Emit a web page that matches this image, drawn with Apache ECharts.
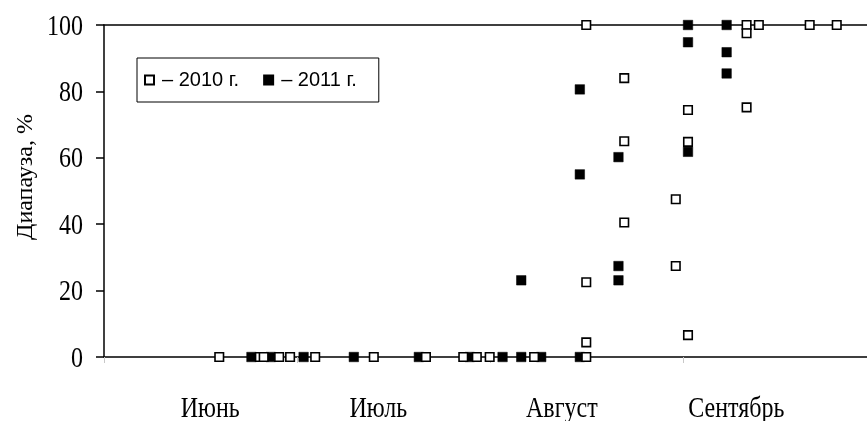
<!DOCTYPE html>
<html>
<head>
<meta charset="utf-8">
<script src="https://cdn.jsdelivr.net/npm/echarts@6/dist/echarts.min.js"></script>
<style>
  html, body { margin: 0; padding: 0; background: #fff; }
  #chart { width: 867px; height: 421px; }
</style>
</head>
<body>
<div id="chart"></div>
<script>
// Days counted from 1 June; 0/30/60/90 are the month boundaries
var days2010 = [17.9, 24.2, 24.8, 27.2, 28.9, 32.8, 41.9, 50.0, 55.8, 57.9, 59.9, 66.8, 74.9,
                74.9, 74.9, 74.9, 80.8, 80.8, 80.8, 88.8, 88.8, 90.7, 90.7, 90.7,
                99.8, 99.8, 99.8, 101.7, 109.6, 113.8];
var diapause2010 = [0, 0, 0, 0, 0, 0, 0, 0, 0, 0, 0, 0, 0,
                    100, 22.5, 4.4, 84, 65, 40.5, 47.5, 27.4, 74.4, 64.8, 6.6,
                    100, 97.5, 75.2, 100, 100, 100];

var days2011 = [22.9, 25.9, 31.0, 38.8, 48.9, 56.8, 61.9, 64.8, 67.9, 73.9,
                64.8, 73.9, 73.9, 79.9, 79.9, 79.9, 90.7, 90.7, 90.7, 96.7, 96.7, 96.7];
var diapause2011 = [0, 0, 0, 0, 0, 0, 0, 0, 0, 0,
                    23.1, 80.6, 55.0, 60.2, 27.4, 23.1, 100, 94.8, 61.8, 100, 91.8, 85.4];

var seriesNames = ['2010 г.', '2011 г.'];
var monthNames = ['Июнь', 'Июль', 'Август', 'Сентябрь'];
var monthLabelDays = [16.5, 42.6, 71.1, 98.2];
var monthTickDays = [0, 30, 60, 90];
var yTicks = [0, 20, 40, 60, 80, 100];

function pairs(xs, ys) {
  return xs.map(function (x, i) { return [x, ys[i]]; });
}

var serif = 'Liberation Serif';
var sans = 'Liberation Sans';
var xMin = 0, xMax = 118.5;
// the serif captions are set tall and narrow
var tallScale = 1.22;

var chart = echarts.init(document.getElementById('chart'), null, { renderer: 'canvas' });

chart.setOption({
  animation: false,
  backgroundColor: '#ffffff',
  grid: { left: 104, right: 0, top: 25, bottom: 64, outerBoundsMode: 'none' },
  legend: {
    data: [seriesNames[0], seriesNames[1]],
    left: 137,
    top: 58,
    orient: 'horizontal',
    borderColor: '#000',
    borderWidth: 1,
    padding: [12, 22, 12, 7],
    itemGap: 24,
    itemWidth: 9,
    itemHeight: 9,
    formatter: function (name) { return '– ' + name; },
    textStyle: { fontFamily: sans, fontSize: 20, color: '#000', padding: [0, 0, 0, 3] }
  },
  xAxis: [
    {
      type: 'value',
      min: xMin,
      max: xMax,
      position: 'bottom',
      axisLine: { show: true, onZero: false, lineStyle: { color: '#000', width: 1.5 } },
      axisTick: { show: true, customValues: monthTickDays, length: 6, lineStyle: { color: '#c8c8c8', width: 1 } },
      axisLabel: { show: false },
      splitLine: { show: false }
    },
    {
      type: 'value',
      min: xMin,
      max: xMax,
      position: 'top',
      axisLine: { show: true, onZero: false, lineStyle: { color: '#000', width: 1.5 } },
      axisTick: { show: false },
      axisLabel: { show: false },
      splitLine: { show: false }
    }
  ],
  yAxis: {
    type: 'value',
    min: yTicks[0],
    max: yTicks[yTicks.length - 1],
    interval: 20,
    axisLine: { show: true, onZero: false, lineStyle: { color: '#000', width: 1.5 } },
    axisTick: { show: true, length: 8, lineStyle: { color: '#000', width: 1.5 } },
    axisLabel: { show: false },
    splitLine: { show: false },
    name: 'Диапауза, %',
    nameLocation: 'middle',
    nameGap: 66,
    nameTextStyle: { fontFamily: serif, fontSize: 24, color: '#000', padding: [0, 0, 0, 28] }
  },
  series: [
    {
      name: seriesNames[1],
      type: 'scatter',
      xAxisIndex: 0,
      symbol: 'rect',
      symbolSize: 9.5,
      itemStyle: { color: '#000', borderColor: '#000', borderWidth: 0.5, opacity: 1 },
      data: pairs(days2011, diapause2011)
    },
    {
      name: seriesNames[0],
      type: 'scatter',
      xAxisIndex: 0,
      symbol: 'rect',
      symbolSize: 8.5,
      itemStyle: { color: '#fff', borderColor: '#000', borderWidth: 1.6, opacity: 1 },
      data: pairs(days2010, diapause2010)
    }
  ]
});

// Tick captions placed from the axes' own scales, drawn tall
var labels = [];
var axisX = chart.convertToPixel({ xAxisIndex: 0 }, xMin);
var axisY = chart.convertToPixel({ yAxisIndex: 0 }, yTicks[0]);
yTicks.forEach(function (v) {
  labels.push({
    type: 'text',
    x: axisX - 21,
    y: chart.convertToPixel({ yAxisIndex: 0 }, v) + 2,
    scaleY: tallScale,
    silent: true,
    style: {
      text: String(v),
      font: '24px "' + serif + '"',
      fill: '#000',
      textAlign: 'right',
      textVerticalAlign: 'middle'
    }
  });
});
monthLabelDays.forEach(function (d, i) {
  labels.push({
    type: 'text',
    x: chart.convertToPixel({ xAxisIndex: 0 }, d),
    y: axisY + 52,
    scaleY: tallScale,
    silent: true,
    style: {
      text: monthNames[i],
      font: '24px "' + serif + '"',
      fill: '#000',
      textAlign: 'center',
      textVerticalAlign: 'middle'
    }
  });
});
chart.setOption({ graphic: labels });
</script>
</body>
</html>
